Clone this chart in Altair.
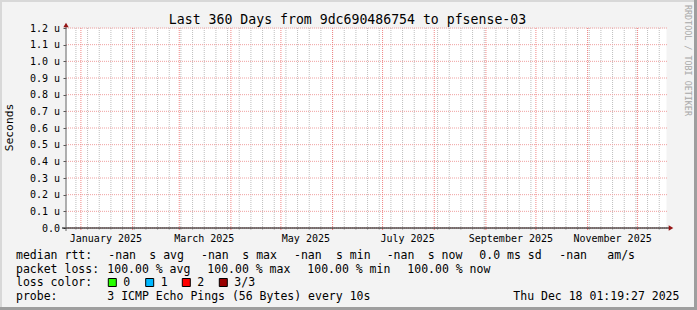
import altair as alt
import pandas as pd

# ---------------- data ----------------
START = "2024-12-23T01:19:27"
END = "2025-12-18T01:19:27"
TITLE = "Last 360 Days from 9dc690486754 to pfsense-03"
Y_TITLE = "Seconds"
WATERMARK = "RRDTOOL / TOBI OETIKER"

y_ticks = [0.0, 0.1, 0.2, 0.3, 0.4, 0.5, 0.6, 0.7, 0.8, 0.9, 1.0, 1.1, 1.2]
month_starts = ["2025-01-01", "2025-02-01", "2025-03-01", "2025-04-01", "2025-05-01",
                "2025-06-01", "2025-07-01", "2025-08-01", "2025-09-01", "2025-10-01",
                "2025-11-01", "2025-12-01"]
label_dates = ["2025-01-16", "2025-03-16", "2025-05-16", "2025-07-16", "2025-09-16", "2025-11-16"]
label_texts = ["January 2025", "March 2025", "May 2025", "July 2025", "September 2025", "November 2025"]

line1 = ["median rtt:", "-nan", "s avg", "-nan", "s max", "-nan", "s min", "-nan", "s now",
         "0.0 ms sd", "-nan", "am/s"]
line2 = ["packet loss:", "100.00 % avg", "100.00 % max", "100.00 % min", "100.00 % now"]
line3 = ["loss color:", "0", "1", "2", "3/3"]
loss_colors = ["#26ff00", "#00b8ff", "#ff0000", "#990000"]
line4 = ["probe:", "3 ICMP Echo Pings (56 Bytes) every 10s", "Thu Dec 18 01:19:27 2025"]

# ---------------- layout (pixels, relative to plot origin) ----------------
OX, OY = 66, 28
W, H = 600, 200
x1 = [16, 108.3, 149.3, 201, 242.3, 294, 336, 386.7, 427.7, 479.3, 559.3, 607.3]
x2 = [16, 107.3, 207.3, 307.3, 407.3]
x3 = [16, 123.3, 160.7, 197.3, 234.3]
box_x = [108.3, 145.7, 182.3, 219.3]
x4 = [16, 107.3, 513.3]
rows = [258.5, 272.5, 286.4, 300.2]

FONT = "DejaVu Sans Mono"
LFS = 11.5


def ms(s):
    return int(pd.Timestamp(s, tz="UTC").value // 10**6)


weeks = [d.strftime("%Y-%m-%d") for d in pd.date_range("2024-12-29", "2025-12-14", freq="7D")]

xscale = alt.Scale(domain=[ms(START), ms(END)], nice=False, zero=False)
yscale = alt.Scale(domain=[0, 1.2], nice=False, zero=True)


def xf():
    return alt.X("t:Q", scale=xscale, axis=None)


def one():
    return alt.Data(values=[{"a": 1}])


layers = []

# frame (3D border)
frame = [
    (-OX, -OX + 2, -OY, 310 - OY, "#D8D8D8"),
    (-OX, 697 - OX, -OY, -OY + 2, "#D8D8D8"),
    (697 - OX - 3, 697 - OX, -OY, 310 - OY, "#9E9E9E"),
    (-OX, 697 - OX, 310 - OY - 3, 310 - OY, "#9E9E9E"),
]
for (a, b, c, d, col) in frame:
    layers.append(alt.Chart(one()).mark_rect(color=col).encode(
        x=alt.value(a), x2=alt.value(b), y=alt.value(c), y2=alt.value(d)))

# weekly minor grid
wk = pd.DataFrame({"t": [ms(d) for d in weeks]})
layers.append(alt.Chart(wk).mark_rule(color="#BEBEBE", strokeDash=[1, 1]).encode(
    x=xf(), y=alt.value(0), y2=alt.value(H)))
layers.append(alt.Chart(wk).mark_rule(color="#BEBEBE").encode(
    x=xf(), y=alt.value(H), y2=alt.value(H + 2)))

# horizontal grid + y axis
hgrid = pd.DataFrame({"v": y_ticks})
layers.append(alt.Chart(hgrid).mark_rule(color="#F0A0A0", strokeDash=[1, 1], strokeWidth=1).encode(
    y=alt.Y("v:Q", scale=yscale, axis=alt.Axis(
        values=y_ticks, title=None, grid=False, domain=False,
        labelExpr="datum.value == 0 ? '0.0' : format(datum.value, '.1f') + ' u'",
        labelFont=FONT, labelFontSize=10, labelColor="#000000", labelPadding=3.5,
        tickSize=3, tickColor="#555555", tickWidth=1)),
    x=alt.value(0), x2=alt.value(W + 2)))

# monthly major grid
mo = pd.DataFrame({"t": [ms(d) for d in month_starts]})
layers.append(alt.Chart(mo).mark_rule(color="#F08484", strokeDash=[1, 1]).encode(
    x=xf(), y=alt.value(0), y2=alt.value(H)))
layers.append(alt.Chart(mo).mark_rule(color="#F08484").encode(
    x=xf(), y=alt.value(H), y2=alt.value(H + 2)))

# axes lines and arrows
layers.append(alt.Chart(one()).mark_rule(color="#000000", strokeWidth=1).encode(
    x=alt.value(-4), x2=alt.value(W + 3), y=alt.value(H)))
layers.append(alt.Chart(one()).mark_rule(color="#666666", strokeWidth=1).encode(
    x=alt.value(0), y=alt.value(H + 3), y2=alt.value(-2)))
layers.append(alt.Chart(one()).mark_point(shape="triangle-right", filled=True, size=28,
                                          color="#951515", opacity=1).encode(
    x=alt.value(W + 5), y=alt.value(H)))
layers.append(alt.Chart(one()).mark_point(shape="triangle-up", filled=True, size=28,
                                          color="#951515", opacity=1).encode(
    x=alt.value(0), y=alt.value(-3)))

# x labels
xl = pd.DataFrame({"t": [ms(d) for d in label_dates], "txt": label_texts})
layers.append(alt.Chart(xl).mark_text(font=FONT, fontSize=10, color="#000000",
                                      align="center", baseline="alphabetic").encode(
    x=xf(), y=alt.value(241.5 - OY), text="txt:N"))

# title, y title, watermark
layers.append(alt.Chart(one()).mark_text(font=FONT, fontSize=13.2, color="#000000",
                                         align="center", baseline="alphabetic").encode(
    x=alt.value(347.5 - OX), y=alt.value(24 - OY), text=alt.value(TITLE)))
layers.append(alt.Chart(one()).mark_text(font=FONT, fontSize=11.3, color="#000000",
                                         align="center", baseline="middle", angle=270).encode(
    x=alt.value(9.5 - OX), y=alt.value(127.5 - OY), text=alt.value(Y_TITLE)))
layers.append(alt.Chart(one()).mark_text(font=FONT, fontSize=8.4, color="#A8A8A8",
                                         align="center", baseline="middle", angle=90).encode(
    x=alt.value(687.5 - OX), y=alt.value(60.5 - OY), text=alt.value(WATERMARK)))


def legend_line(texts, xs, row):
    df = pd.DataFrame({"txt": texts, "px": [x - OX for x in xs]})
    return alt.Chart(df).mark_text(font=FONT, fontSize=LFS, color="#000000",
                                   align="left", baseline="alphabetic").encode(
        x=alt.X("px:Q", scale=None), y=alt.value(row - OY), text="txt:N")


layers.append(legend_line(line1, x1, rows[0]))
layers.append(legend_line(line2, x2, rows[1]))
layers.append(legend_line(line3, x3, rows[2]))
layers.append(legend_line(line4, x4, rows[3]))

boxes = pd.DataFrame({"c": loss_colors, "bx": [b - OX for b in box_x],
                      "bx2": [b - OX + 8 for b in box_x]})
layers.append(alt.Chart(boxes).mark_rect(stroke="#000000", strokeWidth=1).encode(
    x=alt.X("bx:Q", scale=None), x2="bx2:Q",
    y=alt.value(278.5 - OY), y2=alt.value(286.5 - OY),
    color=alt.Color("c:N", scale=None)))

chart = alt.layer(*layers).resolve_scale(x="independent").properties(
    width=W, height=H, background="#F3F3F3",
    padding={"left": OX, "top": OY, "right": 697 - OX - W, "bottom": 310 - OY - H},
    autosize=alt.AutoSizeParams(type="none"),
).configure_view(stroke="transparent", fill="#FFFFFF")

chart.save("out.html", embed_options={"renderer": "svg", "actions": False})
